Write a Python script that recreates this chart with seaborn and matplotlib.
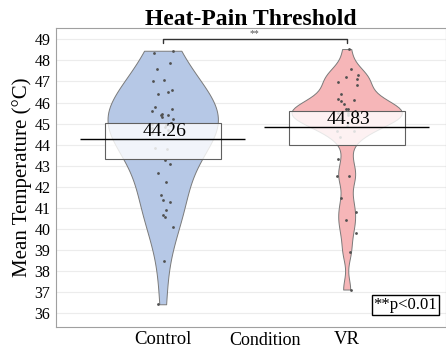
import matplotlib
matplotlib.use("Agg")
import matplotlib.pyplot as plt
import seaborn as sns
import pandas as pd
import numpy as np

# values (points under the mean boxes are estimated)
conditions = ["Control", "VR"]
control_temps = [48.46, 48.37, 47.86, 47.58, 47.07, 47.04, 46.49, 46.58, 46.42,
                 45.62, 45.68, 45.78, 45.41, 45.40, 45.46, 45.21, 45.30,
                 45.04, 45.02, 45.00, 44.97, 44.95, 44.92, 44.88, 44.85, 44.80,
                 44.70, 44.55,
                 43.80, 43.83, 43.29, 43.06, 42.65, 42.25, 41.59, 41.38, 41.27,
                 40.92, 40.67, 40.55, 40.09, 38.46, 36.42]
vr_temps = [48.54, 47.58, 47.30, 47.20, 47.10, 46.98, 46.82, 46.41, 46.18, 46.12,
            46.08, 45.92, 45.71, 45.70, 45.58, 45.55, 45.52, 45.50, 45.47, 45.45,
            45.40, 45.35, 45.28, 45.20, 45.05, 44.90,
            44.66, 44.66, 44.35, 43.34, 42.52, 42.52,
            41.45, 40.82, 40.41, 39.80, 38.91, 37.12]
means = [44.26, 44.83]
ci_low = [43.33, 43.99]
ci_high = [45.05, 45.60]
sig_label = "**"
p_note = "**p<0.01"

df = pd.DataFrame({
    "Condition": ["Control"] * len(control_temps) + ["VR"] * len(vr_temps),
    "Temp": control_temps + vr_temps,
})

colors = {"Control": "#b6c8e6", "VR": "#f6b6b8"}
bw = {"Control": 1.25, "VR": 0.42}

sns.set_style("white")
plt.rcParams["font.family"] = ["Liberation Serif", "DejaVu Serif"]
plt.rcParams["text.color"] = "black"
plt.rcParams["axes.labelcolor"] = "black"
plt.rcParams["xtick.color"] = "black"
plt.rcParams["ytick.color"] = "black"

fig = plt.figure(figsize=(4.46, 3.5), dpi=100)
ax = fig.add_axes([0.1256, 0.0657, 0.8744, 0.8543])

for cond in conditions:
    sub = df[df["Condition"] == cond]
    sns.violinplot(data=sub, x="Condition", y="Temp", order=conditions,
                   color=colors[cond], cut=0, inner=None, width=0.6,
                   density_norm="width", bw_adjust=bw[cond], linewidth=0.7,
                   linecolor="#7a7a7a", saturation=1, ax=ax)

sns.stripplot(data=df, x="Condition", y="Temp", order=conditions, color="#505050",
              size=2, jitter=0.06, ax=ax, zorder=3)

# mean boxes, mean lines and labels
for i, cond in enumerate(conditions):
    ax.add_patch(plt.Rectangle((i - 0.316, ci_low[i]), 0.632, ci_high[i] - ci_low[i],
                               facecolor="white", alpha=0.82, edgecolor="none", zorder=4))
    ax.add_patch(plt.Rectangle((i - 0.316, ci_low[i]), 0.632, ci_high[i] - ci_low[i],
                               facecolor="none", edgecolor="#606060", lw=0.8, zorder=5))
    ax.hlines(means[i], i - 0.45, i + 0.45, color="black", lw=1.0, zorder=6)
    ax.text(i + 0.01, means[i] + 0.36, f"{means[i]:.2f}", ha="center", va="center",
            fontsize=14, zorder=7)

# significance bracket
ax.plot([0, 0, 1, 1], [48.81, 49.01, 49.01, 48.81], color="#333333", lw=1.0, zorder=5)
ax.text(0.5, 49.05, sig_label, ha="center", va="bottom", fontsize=7, color="#555555")

ax.text(1.318, 36.38, p_note, ha="center", va="center", fontsize=12,
        bbox=dict(boxstyle="square,pad=0.1", facecolor="white", edgecolor="black", lw=1.0))

ax.set_xlim(-0.58, 1.54)
ax.set_ylim(35.34, 49.54)
ax.set_yticks(range(36, 50))
ax.yaxis.grid(True, color="#ececec", lw=0.8)
ax.set_axisbelow(True)
for s in ax.spines.values():
    s.set_color("#a0a0a0")
    s.set_linewidth(0.8)
ax.tick_params(axis="both", length=3, width=0.6, color="#a0a0a0", labelcolor="black", pad=1)
ax.tick_params(axis="y", labelsize=11.5)
ax.tick_params(axis="x", labelsize=13.5, pad=0)

ax.set_title("Heat-Pain Threshold", fontsize=17, fontweight="bold", pad=2)
ax.set_ylabel("Mean Temperature (°C)", fontsize=15, labelpad=2)
ax.set_xlabel("Condition", fontsize=13)
ax.xaxis.set_label_coords(0.537, -0.016)

fig.savefig("out.png", dpi=100)
